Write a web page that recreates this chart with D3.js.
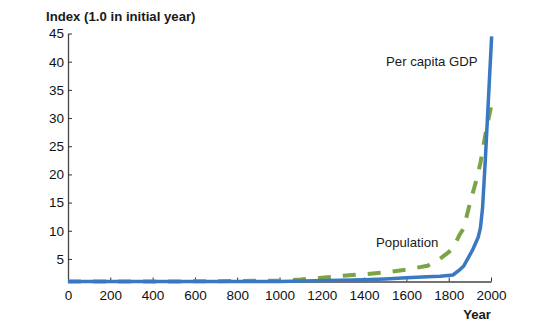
<!DOCTYPE html>
<html>
<head>
<meta charset="utf-8">
<script src="https://cdn.jsdelivr.net/npm/d3@7"></script>
<style>
  body { margin: 0; background: #fff; }
  text { font-family: "Liberation Sans", Arial, sans-serif; fill: #1a1a1a; }
</style>
</head>
<body>
<script>
// basic settings
const width = 557;
const height = 326;
const marginTop = 33.5;
const marginLeft = 68;
const plotRight = 491;
const plotBottom = 281.5;

// data (index, 1.0 in initial year)
const gdpYears = [0, 1000, 1400, 1500, 1600, 1700, 1760, 1820, 1850, 1870, 1885, 1913, 1940, 1950, 1960, 1973, 2003];
const gdpValues = [1, 1, 1.3, 1.45, 1.65, 1.85, 1.95, 2.15, 3.0, 3.7, 4.7, 6.6, 8.9, 10.5, 14, 22.5, 44.5];

const popYears = [0, 500, 1000, 1100, 1200, 1300, 1400, 1500, 1600, 1700, 1750, 1800, 1820, 1850, 1870, 1900, 1913, 1930, 1950, 1973, 2003];
const popValues = [1, 1, 1.15, 1.35, 1.65, 2.0, 2.3, 2.6, 3.1, 3.8, 4.8, 6.2, 6.9, 9.2, 10.4, 14.8, 16.6, 18.9, 22, 27, 32.5];

const xTicks = [0, 200, 400, 600, 800, 1000, 1200, 1400, 1600, 1800, 2000];
const yTicks = [5, 10, 15, 20, 25, 30, 35, 40, 45];

const gdpColor = '#3a78c2';
const popColor = '#7ca445';

const svg = d3.select('body')
  .append('svg')
  .attr('width', width)
  .attr('height', height);

const x = d3.scaleLinear().domain([0, 2000]).range([marginLeft, plotRight]);
const y = d3.scaleLinear().domain([1, 45]).range([plotBottom, marginTop]);

// axes (ticks pointing inward)
const xAxis = svg.append('g')
  .attr('transform', `translate(0,${plotBottom})`)
  .call(d3.axisTop(x).tickValues(xTicks).tickSize(4).tickSizeOuter(0).tickFormat(d3.format('d')));
xAxis.selectAll('text')
  .attr('y', 18)
  .attr('dy', 0)
  .style('font-size', '13.5px');

const yAxis = svg.append('g')
  .attr('transform', `translate(${marginLeft},0)`)
  .call(d3.axisRight(y).tickValues(yTicks).tickSize(4).tickSizeOuter(0));
yAxis.selectAll('text')
  .attr('x', -4)
  .attr('text-anchor', 'end')
  .style('font-size', '13.5px');

svg.selectAll('.domain').attr('stroke', '#444').attr('stroke-width', 1.3);
svg.selectAll('.tick line').attr('stroke', '#333');
svg.selectAll('.tick text').style('fill', '#111').style('font-family', '"Liberation Sans", Arial, sans-serif');

// lines
const line = d3.line()
  .x(d => x(d[0]))
  .y(d => y(d[1]));

svg.append('path')
  .datum(d3.zip(popYears, popValues))
  .attr('d', line)
  .attr('fill', 'none')
  .attr('stroke', popColor)
  .attr('stroke-width', 4)
  .attr('stroke-dasharray', '13,12');

svg.append('path')
  .datum(d3.zip(gdpYears, gdpValues))
  .attr('d', line)
  .attr('fill', 'none')
  .attr('stroke', gdpColor)
  .attr('stroke-width', 3.5)
  .attr('stroke-linejoin', 'round');

// labels
svg.append('text')
  .attr('x', 46)
  .attr('y', 21)
  .style('font-size', '13.2px')
  .style('font-weight', 'bold')
  .text('Index (1.0 in initial year)');

svg.append('text')
  .attr('x', plotRight)
  .attr('y', 319)
  .attr('text-anchor', 'end')
  .style('font-size', '13.2px')
  .style('font-weight', 'bold')
  .text('Year');

svg.append('text')
  .attr('x', 386)
  .attr('y', 66)
  .style('font-size', '13.2px')
  .text('Per capita GDP');

svg.append('text')
  .attr('x', 376)
  .attr('y', 247)
  .style('font-size', '13.2px')
  .text('Population');
</script>
</body>
</html>
